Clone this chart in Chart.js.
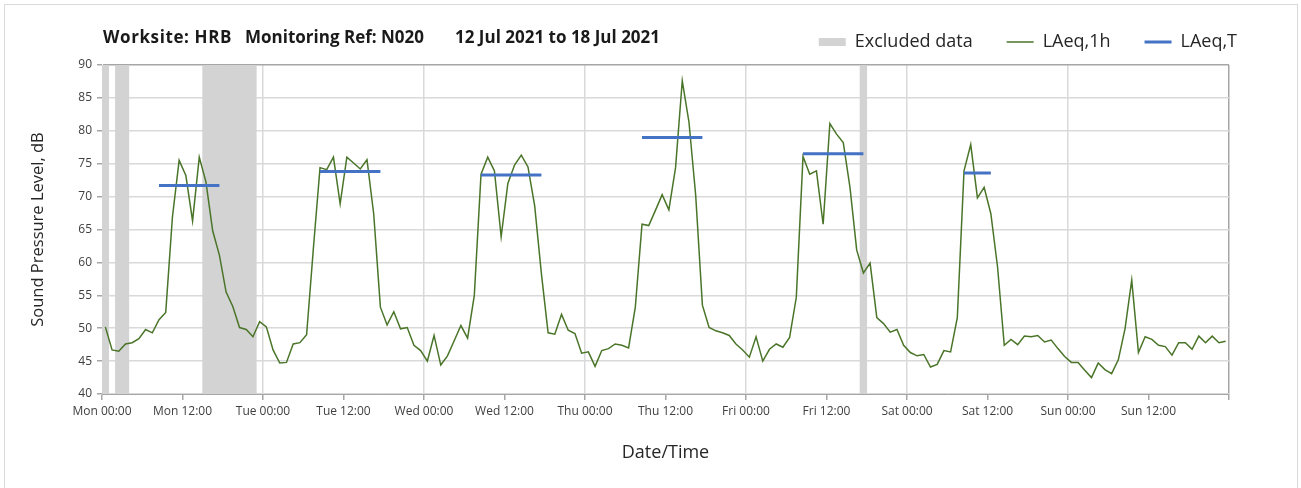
<!DOCTYPE html>
<html lang="en">
<head>
    <meta charset="UTF-8">
    <title>Sound Pressure Level</title>
    <script src="https://cdn.jsdelivr.net/npm/chart.js"></script>
    <style>
        body {
            margin: 0;
            background: #ffffff;
            font-family: 'Open Sans', sans-serif;
        }

        .frame {
            position: absolute;
            left: 4px;
            top: 4px;
            width: 1292px;
            height: 490px;
            border: 1px solid #d9d9d9;
        }

        .chart-wrap {
            position: relative;
            width: 1301px;
            height: 488px;
        }

        .chart-title {
            position: absolute;
            top: 25px;
            font-size: 17px;
            font-weight: bold;
            color: #1a1a1a;
            white-space: nowrap;
        }
    </style>
</head>
<body>
    <div class="frame"></div>
    <div class="chart-wrap">
        <canvas id="noiseChart"></canvas>
        <div class="chart-title" style="left: 103px; letter-spacing: 0.6px;">Worksite: HRB</div>
        <div class="chart-title" style="left: 245px;">Monitoring Ref: N020</div>
        <div class="chart-title" style="left: 455px;">12 Jul 2021 to 18 Jul 2021</div>
    </div>

    <script>
        // hourly LAeq,1h values, Mon 00:00 .. Sun 23:00
        const laeq1h = [
            50.2, 46.7, 46.5, 47.6, 47.8, 48.4, 49.8, 49.3, 51.3, 52.4, 66.9, 75.5,
            73.2, 66.3, 76.0, 72.2, 64.8, 61.1, 55.5, 53.3, 50.1, 49.8, 48.7, 51.0,
            50.2, 46.7, 44.7, 44.8, 47.6, 47.8, 49.0, 62.0, 74.4, 74.1, 76.0, 68.9,
            76.0, 75.1, 74.2, 75.6, 67.4, 53.2, 50.5, 52.5, 49.9, 50.1, 47.4, 46.6,
            45.0, 48.9, 44.4, 45.8, 48.1, 50.4, 48.5, 55.0, 73.4, 76.0, 73.9, 63.9,
            72.0, 74.8, 76.3, 74.5, 68.6, 58.3, 49.3, 49.1, 52.1, 49.7, 49.2, 46.2,
            46.4, 44.2, 46.6, 46.9, 47.6, 47.4, 47.0, 53.2, 65.8, 65.6, 67.9, 70.3,
            68.0, 74.4, 87.6, 81.3, 70.2, 53.5, 50.1, 49.6, 49.3, 48.9, 47.6, 46.7,
            45.6, 48.7, 45.0, 46.8, 47.6, 47.1, 48.6, 54.7, 76.1, 73.4, 73.9, 65.8,
            81.1, 79.5, 78.2, 71.4, 61.9, 58.4, 59.9, 51.6, 50.7, 49.4, 49.8, 47.4,
            46.3, 45.8, 46.0, 44.1, 44.5, 46.6, 46.4, 51.6, 73.9, 77.9, 69.8, 71.4,
            67.4, 59.3, 47.4, 48.3, 47.5, 48.8, 48.7, 48.9, 47.9, 48.2, 46.9, 45.7,
            44.8, 44.8, 43.6, 42.5, 44.7, 43.7, 43.1, 45.2, 49.9, 57.3, 46.3, 48.7,
            48.3, 47.4, 47.2, 45.9, 47.8, 47.8, 46.8, 48.8, 47.8, 48.8, 47.8, 48.0
        ];

        // LAeq,T periods (hour positions) and levels
        const periodStart = [8.5, 32.5, 56.5, 80.5, 104.5, 128.5];
        const periodEnd = [17.5, 41.5, 65.5, 89.5, 113.5, 132.5];
        const periodLevel = [71.7, 73.8, 73.3, 79.0, 76.5, 73.6];

        // hours with excluded data
        const excludedHours = [0, 2, 3, 15, 16, 17, 18, 19, 20, 21, 22, 113];

        const tickLabels = [
            'Mon 00:00', 'Mon 12:00', 'Tue 00:00', 'Tue 12:00', 'Wed 00:00', 'Wed 12:00',
            'Thu 00:00', 'Thu 12:00', 'Fri 00:00', 'Fri 12:00', 'Sat 00:00', 'Sat 12:00',
            'Sun 00:00', 'Sun 12:00'
        ];

        const hourlyPoints = laeq1h.map((v, i) => ({ x: i + 0.5, y: v }));

        const periodPoints = [];
        periodLevel.forEach((lvl, i) => {
            periodPoints.push({ x: periodStart[i], y: lvl });
            periodPoints.push({ x: periodEnd[i], y: lvl });
            periodPoints.push({ x: periodEnd[i], y: null });
        });

        const excludedBars = excludedHours.map(h => ({ x: h + 0.5, y: 90 }));

        const axisGrey = '#a6a6a6';
        const gridGrey = '#d9d9d9';

        new Chart(document.getElementById('noiseChart'), {
            data: {
                datasets: [
                    {
                        type: 'bar',
                        label: 'Excluded data',
                        data: excludedBars,
                        backgroundColor: '#d3d3d3',
                        borderWidth: 0,
                        barPercentage: 1,
                        categoryPercentage: 1,
                        pointStyle: 'rect',
                        order: 3
                    },
                    {
                        type: 'line',
                        label: 'LAeq,1h',
                        data: hourlyPoints,
                        borderColor: '#4a7529',
                        backgroundColor: '#4a7529',
                        borderWidth: 1.5,
                        pointRadius: 0,
                        tension: 0,
                        pointStyle: 'line',
                        order: 2
                    },
                    {
                        type: 'line',
                        label: 'LAeq,T',
                        data: periodPoints,
                        borderColor: '#4472c4',
                        backgroundColor: '#4472c4',
                        borderWidth: 3,
                        pointRadius: 0,
                        spanGaps: false,
                        pointStyle: 'line',
                        order: 1
                    }
                ]
            },
            options: {
                responsive: true,
                maintainAspectRatio: false,
                animation: false,
                layout: {
                    padding: { top: -1, right: 30, left: 0, bottom: 0 }
                },
                plugins: {
                    legend: {
                        position: 'top',
                        align: 'end',
                        labels: {
                            usePointStyle: true,
                            pointStyleWidth: 27,
                            boxWidth: 27,
                            boxHeight: 8,
                            padding: 34,
                            color: '#262626',
                            font: { family: 'Open Sans', size: 18 },
                            sort: (a, b) => a.datasetIndex - b.datasetIndex
                        }
                    },
                    // empty spacer between the legend and the plot
                    title: {
                        display: true,
                        text: '',
                        weight: 500,
                        font: { size: 4, lineHeight: 1 },
                        padding: { top: 0, bottom: 0 }
                    },
                    tooltip: { enabled: false }
                },
                scales: {
                    x: {
                        type: 'linear',
                        min: 0,
                        max: 168,
                        offset: false,
                        afterFit: (scale) => { scale.height = 94; },
                        ticks: {
                            stepSize: 12,
                            autoSkip: false,
                            maxRotation: 0,
                            padding: 4,
                            color: '#404040',
                            font: { family: 'Open Sans', size: 12 },
                            callback: (value) => tickLabels[value / 12] || ''
                        },
                        grid: {
                            offset: false,
                            color: (ctx) => {
                                const v = ctx.tick ? ctx.tick.value : 0;
                                if (v === 168) return axisGrey;
                                if (v > 0 && v % 24 === 0) return gridGrey;
                                return 'rgba(0,0,0,0)';
                            },
                            lineWidth: 1.5,
                            tickColor: axisGrey,
                            tickLength: 6
                        },
                        border: { color: axisGrey, width: 1 },
                        title: {
                            display: true,
                            text: 'Date/Time',
                            color: '#262626',
                            font: { family: 'Open Sans', size: 18 },
                            padding: { top: 4, bottom: 24 }
                        }
                    },
                    y: {
                        min: 40,
                        max: 90,
                        afterFit: (scale) => { scale.width = 102; },
                        ticks: {
                            stepSize: 5,
                            padding: 5,
                            color: '#404040',
                            font: { family: 'Open Sans', size: 12 }
                        },
                        grid: {
                            color: (ctx) => (ctx.tick && ctx.tick.value === 90) ? axisGrey : gridGrey,
                            lineWidth: 1.5,
                            tickColor: axisGrey,
                            tickLength: 5
                        },
                        border: { color: axisGrey, width: 1 },
                        title: {
                            display: true,
                            text: 'Sound Pressure Level, dB',
                            color: '#262626',
                            font: { family: 'Open Sans', size: 16.5 },
                            padding: { top: 28, bottom: 4 }
                        }
                    },
                    // blank right-hand strip so the legend can sit past the plot edge
                    yRight: {
                        position: 'right',
                        min: 40,
                        max: 90,
                        afterFit: (scale) => { scale.width = 42; },
                        ticks: { display: false },
                        grid: { display: false },
                        border: { display: false }
                    }
                }
            }
        });
    </script>
</body>
</html>
